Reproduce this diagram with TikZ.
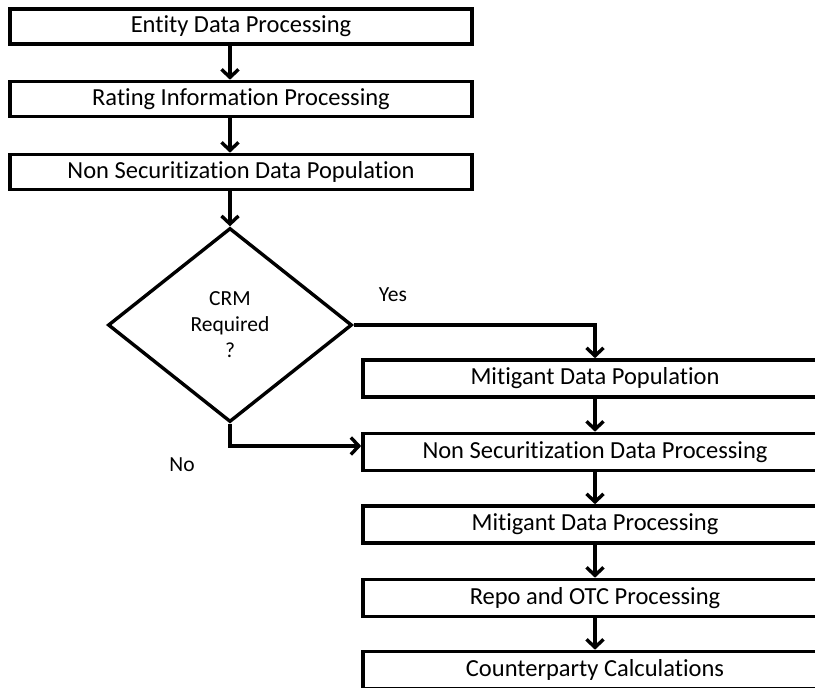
\documentclass[tikz,border=0pt]{standalone}
\usepackage{fontspec}
\setmainfont{Carlito}[Ligatures={NoCommon,NoContextual},Contextuals=NoAlternate]
\usetikzlibrary{shapes.geometric,arrows.meta}
\begin{document}
\begin{tikzpicture}[x=1pt,y=-1pt,
  proc/.style={draw, line width=3.6pt, minimum height=35pt, inner sep=0pt, font=\fontsize{24.5}{29}\selectfont},
  flow/.style={line width=3.4pt, -{Straight Barb[length=8pt,width=17pt,line width=3.4pt]}},
  lbl/.style={font=\fontsize{21.5}{26}\selectfont}]
\useasboundingbox (0,0) rectangle (815,688);
\clip (0,0) rectangle (815,688);
\node[proc, minimum width=462pt] (entity) at (241,26.5) {Entity Data Processing};
\node[proc, minimum width=462pt] (rating) at (241,99) {Rating Information Processing};
\node[proc, minimum width=462pt] (nspop) at (241,172) {Non Securitization Data Population};
\node[draw, diamond, line width=3.4pt, minimum width=244pt, minimum height=194pt, inner sep=0pt, align=center, lbl] (crm) at (230,325) {CRM\\Required\\?};
\node[proc, minimum width=464pt, minimum height=37pt] (mitpop) at (595,378.5) {Mitigant Data Population};
\node[proc, minimum width=464pt, minimum height=37pt] (nsproc) at (595,452) {Non Securitization Data Processing};
\node[proc, minimum width=464pt, minimum height=37pt] (mitproc) at (595,524.5) {Mitigant Data Processing};
\node[proc, minimum width=464pt, minimum height=37pt] (repo) at (595,598) {Repo and OTC Processing};
\node[proc, minimum width=464pt, minimum height=37pt] (cpty) at (595,670) {Counterparty Calculations};
\node[lbl] (yes) at (393,295) {Yes};
\node[lbl] (no) at (182,465) {No};

\draw[flow] (entity.south -| crm) -- (rating.north -| crm);
\draw[flow] (rating.south -| crm) -- (nspop.north -| crm);
\draw[flow] (nspop.south -| crm) -- (crm.north);
\draw[flow] (crm.east) -| (mitpop.north);
\draw[flow] (crm.south) |- ([yshift=6pt]nsproc.west);
\draw[flow] (mitpop) -- (nsproc);
\draw[flow] (nsproc) -- (mitproc);
\draw[flow] (mitproc) -- (repo);
\draw[flow] (repo) -- (cpty);
\end{tikzpicture}
\end{document}
